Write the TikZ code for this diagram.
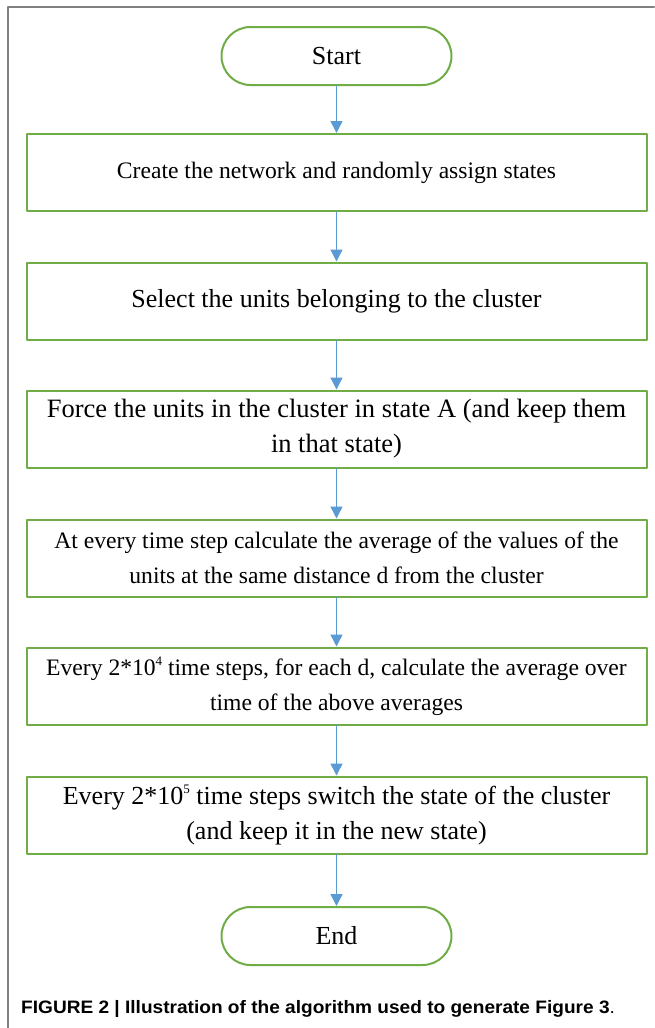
\documentclass[tikz,border=0pt]{standalone}
\usepackage{fontspec}
\setmainfont{Liberation Serif}
\newfontfamily\capfont[FakeStretch=1.06]{Liberation Sans}
\usetikzlibrary{arrows.meta,shapes.misc}

\definecolor{boxgreen}{HTML}{70AD47}
\definecolor{arrowblue}{HTML}{5B9BD5}
\definecolor{framegray}{HTML}{808080}

% small raised exponent
\newcommand{\expo}[1]{\raisebox{0.42em}{\fontsize{13}{13}\selectfont #1}}

\begin{document}
\begin{tikzpicture}[
    x=1pt,y=-1pt,
    line cap=round,
    line join=round,
    bigtext/.style={font=\fontsize{26}{35}\selectfont},
    smalltext/.style={font=\fontsize{23.6}{35}\selectfont},
    stepbox/.style={draw=boxgreen, line width=2pt, minimum width=620pt,
        minimum height=77pt, align=center, inner sep=0pt},
    terminal/.style={rounded rectangle, draw=boxgreen, line width=2pt,
        minimum width=230pt, minimum height=58pt, inner sep=0pt},
    flow/.style={draw=arrowblue, line width=1.5pt,
        -{Triangle[width=12pt,length=12pt]}},
    frame/.style={draw=framegray, line width=2pt}
]
\useasboundingbox (0,0) rectangle (654,1028);

\coordinate (F0) at (8,1028);
\coordinate (F1) at (8,7);
\coordinate (F2) at (654,7);
\draw[frame] (F0) -- (F1) -- (F2);

\node[terminal,bigtext] (start) at (336.5,56) {Start};
\node[stepbox,smalltext] (create) at (336.5,172.5)
    {Create the network and randomly assign states};
\node[stepbox,bigtext] (select) at (336.5,301)
    {Select the units belonging to the cluster};
\node[stepbox,font=\fontsize{26.5}{35}\selectfont] (force) at (336.5,429)
    {Force the units in the cluster in state A (and keep them\\in that state)};
\node[stepbox,smalltext] (average) at (336.5,558)
    {At every time step calculate the average of the values of the\\units at the same distance d from the cluster};
\node[stepbox,smalltext] (overtime) at (336.5,686)
    {Every 2*10\expo{4} time steps, for each d, calculate the average over\\time of the above averages};
\node[stepbox,bigtext] (switch) at (336.5,815)
    {Every 2*10\expo{5} time steps switch the state of the cluster\\(and keep it in the new state)};
\node[terminal,bigtext] (end) at (336.5,936) {End};

\foreach \a/\b in {start/create,create/select,select/force,force/average,
                   average/overtime,overtime/switch,switch/end} {
    \draw[flow] (\a.south) -- (\b.north);
}

\node[anchor=base west, inner sep=0pt,
      font=\capfont\bfseries\fontsize{18}{20}\selectfont] (caption) at (21,1013)
    {FIGURE 2 | Illustration of the algorithm used to generate Figure 3{\mdseries .}};

\end{tikzpicture}
\end{document}
